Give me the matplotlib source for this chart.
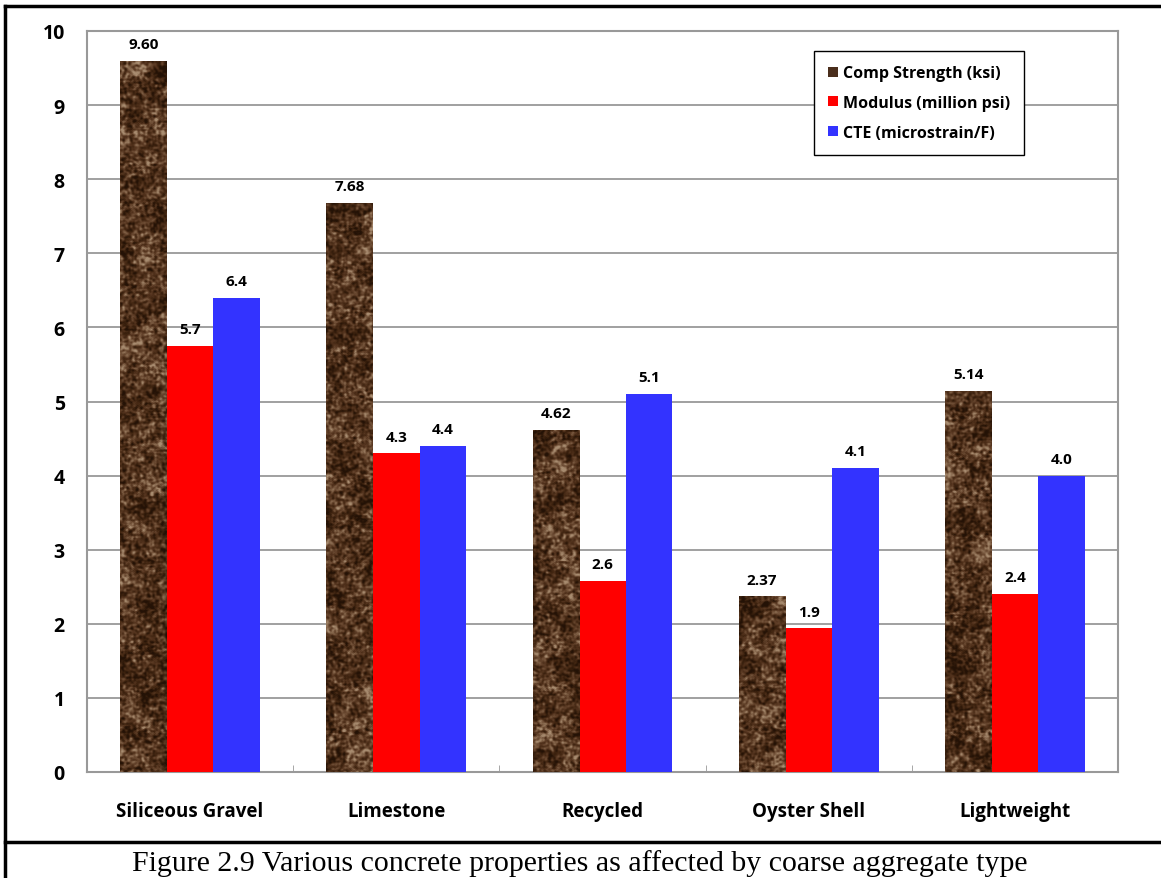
import numpy as np
import matplotlib.pyplot as plt
from matplotlib.colors import LinearSegmentedColormap
from matplotlib.patches import Patch
from matplotlib.lines import Line2D

# data
categories = ['Siliceous Gravel', 'Limestone', 'Recycled', 'Oyster Shell', 'Lightweight']
comp_strength = [9.60, 7.68, 4.62, 2.37, 5.14]
modulus = [5.75, 4.30, 2.58, 1.94, 2.40]
cte = [6.4, 4.4, 5.1, 4.1, 4.0]
comp_labels = ['9.60', '7.68', '4.62', '2.37', '5.14']
modulus_labels = ['5.7', '4.3', '2.6', '1.9', '2.4']
cte_labels = ['6.4', '4.4', '5.1', '4.1', '4.0']
series_names = ['Comp Strength (ksi)', 'Modulus (million psi)', 'CTE (microstrain/F)']

bold_font = 'Open Sans'

fig = plt.figure(figsize=(11.61, 8.79), dpi=100)
ax = fig.add_axes([87 / 1161, 1 - 773 / 879, (1118 - 87) / 1161, (773 - 32) / 879])

x = np.arange(len(categories))
width = 0.226

# texture for the brown "stone" bars (just a fill style)
rng = np.random.default_rng(3)
tex = rng.random((760, 1040))
for k in range(2):
    tex = (tex + np.roll(tex, 1, 0) + np.roll(tex, -1, 0) + np.roll(tex, 1, 1) + np.roll(tex, -1, 1)) / 5
coarse = rng.random((80, 110))
coarse = np.kron(coarse, np.ones((10, 10)))[:760, :1040]
for k in range(5):
    coarse = (coarse + np.roll(coarse, 3, 0) + np.roll(coarse, -3, 0) + np.roll(coarse, 3, 1) + np.roll(coarse, -3, 1)) / 5
tex = 0.7 * (tex - tex.min()) / (tex.max() - tex.min()) + 0.3 * (coarse - coarse.min()) / (coarse.max() - coarse.min())
stone = LinearSegmentedColormap.from_list('stone', ['#241206', '#3e230f', '#573620', '#7a5a40', '#a88c70'])

bars1 = ax.bar(x - width, comp_strength, width, color='#4a2e1c', edgecolor='none', zorder=3)
bars2 = ax.bar(x, modulus, width, color='#ff0000', edgecolor='none', zorder=3)
bars3 = ax.bar(x + width, cte, width, color='#3333ff', edgecolor='none', zorder=3)

for b in bars1:
    im = ax.imshow(tex, cmap=stone, extent=(-0.5, 4.5, 0, 10), aspect='auto',
                   vmin=0.3, vmax=0.72, zorder=4, interpolation='bilinear')
    im.set_clip_path(b)

# value labels
for bars, labs in [(bars1, comp_labels), (bars2, modulus_labels), (bars3, cte_labels)]:
    for b, lab in zip(bars, labs):
        ax.annotate(lab, (b.get_x() + b.get_width() / 2, b.get_height()), xytext=(0, 7),
                    textcoords='offset points', ha='center', va='bottom',
                    fontsize=11, fontweight='bold', family=bold_font, zorder=6)

ax.set_xlim(-0.5, 4.5)
ax.set_ylim(0, 10)
ax.set_yticks(range(0, 11))
ax.yaxis.grid(True, color='#999999', linewidth=1.3, zorder=0)
ax.set_axisbelow(True)
ax.set_xticks(x)
ax.set_xticklabels(categories, fontsize=13.5, fontweight='bold', family=bold_font)
ax.set_xticks(np.arange(0.5, 4.5, 1), minor=True)
ax.tick_params(axis='x', which='major', length=0, pad=21)
ax.tick_params(axis='x', which='minor', length=5, color='#999999', direction='in')
ax.tick_params(axis='y', length=0, pad=16)
ax.set_yticklabels([str(v) for v in range(0, 11)], fontsize=14, fontweight='bold', family=bold_font)
for s in ax.spines.values():
    s.set_color('#999999')
    s.set_linewidth(1.5)

# legend
handles = [Patch(facecolor='#4a2e1c'), Patch(facecolor='#ff0000'), Patch(facecolor='#3333ff')]
leg = ax.legend(handles, series_names, loc='upper right', bbox_to_anchor=(0.909, 0.973),
                borderaxespad=0, prop={'family': bold_font, 'weight': 'bold', 'size': 11.5},
                handlelength=0.6, handleheight=0.6, handletextpad=0.3, labelspacing=0.85,
                borderpad=0.9, fancybox=False, framealpha=1, edgecolor='black')
leg.get_frame().set_linewidth(1.0)
leg.set_zorder(7)

# outer frame and caption
fig.add_artist(Line2D([5 / 1161, 5 / 1161], [0, 1 - 7 / 879], color='black', lw=2.5, transform=fig.transFigure))
fig.add_artist(Line2D([5 / 1161, 1], [1 - 7 / 879, 1 - 7 / 879], color='black', lw=2.5, transform=fig.transFigure))
fig.add_artist(Line2D([5 / 1161, 1], [1 - 843 / 879, 1 - 843 / 879], color='black', lw=2.5, transform=fig.transFigure))
fig.text(580 / 1161, 1 - 864 / 879, 'Figure 2.9 Various concrete properties as affected by coarse aggregate type',
         ha='center', va='center', fontsize=21.5, family='Liberation Serif')

fig.savefig('out.png', dpi=100)
